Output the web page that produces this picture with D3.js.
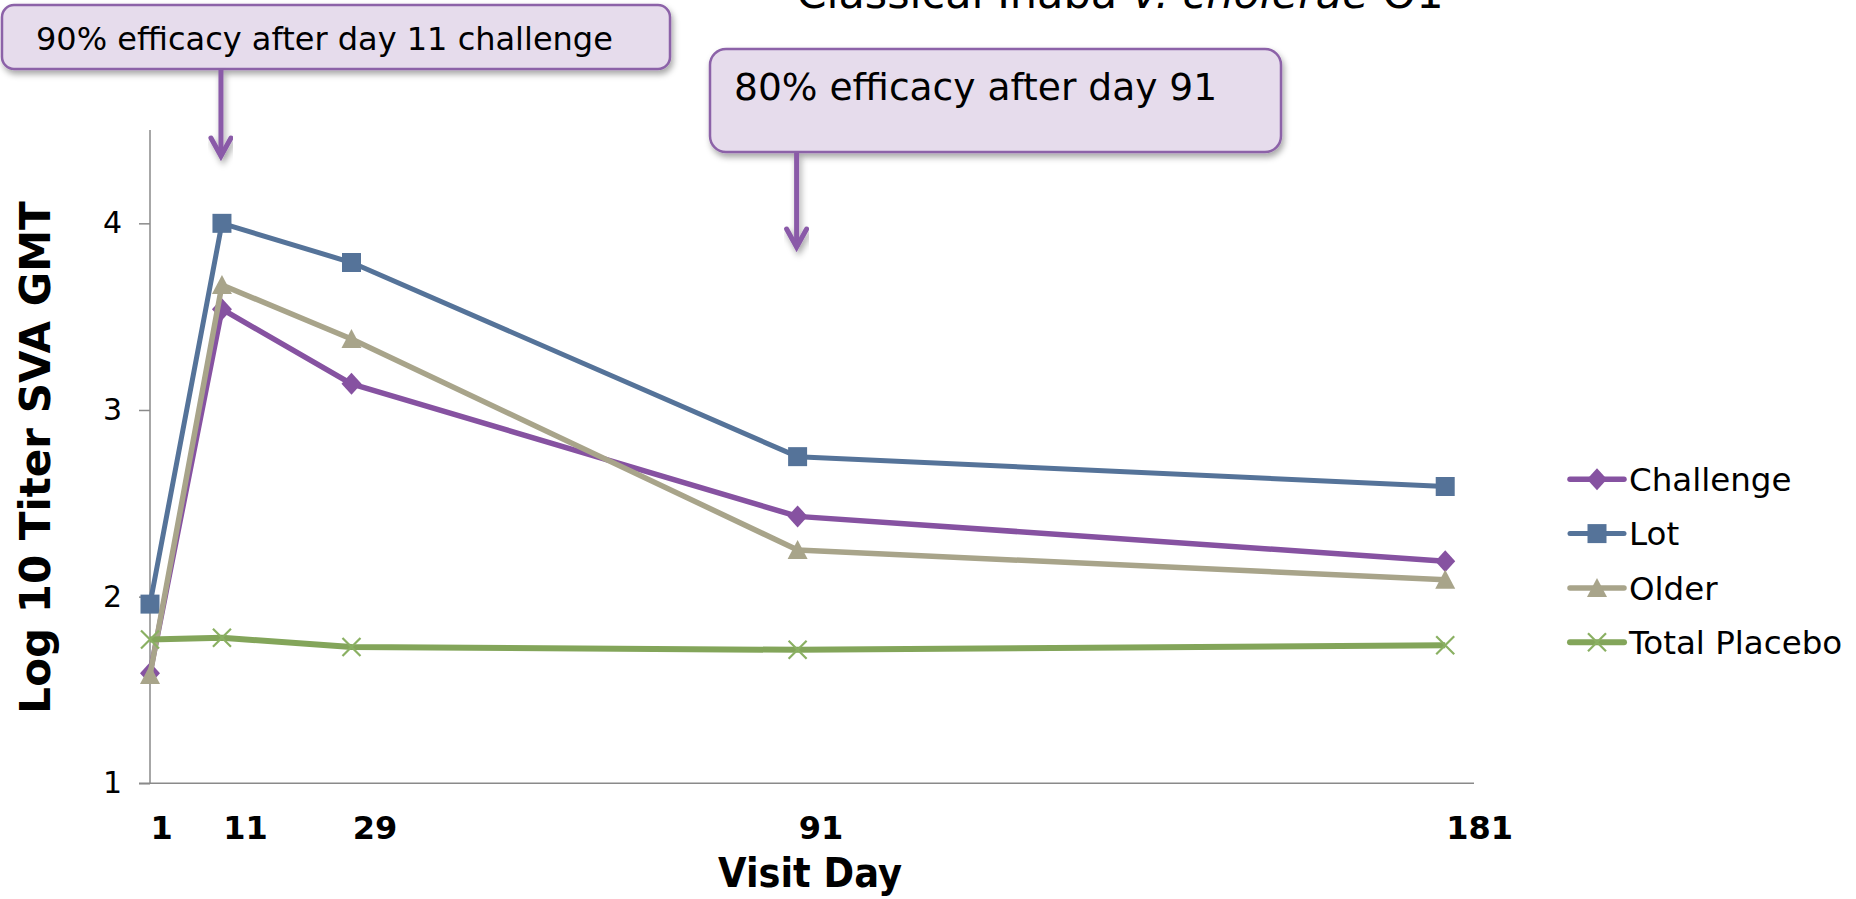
<!DOCTYPE html>
<html>
<head>
<meta charset="utf-8">
<script src="https://cdn.jsdelivr.net/npm/d3@7"></script>
<style>
  html, body { margin: 0; padding: 0; background: #fff; }
  svg { display: block; font-family: "DejaVu Sans", Verdana, sans-serif; }
</style>
</head>
<body>
<svg id="chart" width="1856" height="899"></svg>
<script>
// Visit days (x values)
const days = [1, 11, 29, 91, 181];

// Log10 SVA GMT per group
const challenge = [1.59, 3.54, 3.14, 2.43, 2.19];
const lot       = [1.96, 4.00, 3.79, 2.75, 2.59];
const older     = [1.58, 3.67, 3.38, 2.25, 2.09];
const placebo   = [1.77, 1.78, 1.73, 1.715, 1.74];

const seriesNames = ["Challenge", "Lot", "Older", "Total Placebo"];
const yTickValues = [1, 2, 3, 4];

const titleParts = ["Classical Inaba ", "V. cholerae", " O1"];
const calloutTexts = ["90% efficacy after day 11 challenge", "80% efficacy after day 91"];
const calloutDays = [11, 91];

// ---- styling ----
const styles = [
  { name: seriesNames[0], values: challenge, color: "#8652A1", width: 5.5, marker: "diamond" },
  { name: seriesNames[1], values: lot,       color: "#557399", width: 5,   marker: "square" },
  { name: seriesNames[2], values: older,     color: "#A8A48A", width: 5.5, marker: "triangle" },
  { name: seriesNames[3], values: placebo,   color: "#83A55A", width: 6,   marker: "x" }
];

const svg = d3.select("#chart");

const x = d3.scaleLinear().domain([1, 185]).range([150, 1474]);
const y = d3.scaleLinear().domain([1, 4.5]).range([783.3, 130]);

// marker shapes centred on (0,0)
function markerPath(type) {
  const p = d3.path();
  if (type === "square") {
    p.rect(-9.5, -9.5, 19, 19);
  } else if (type === "diamond") {
    p.moveTo(0, -11); p.lineTo(10, 0); p.lineTo(0, 11); p.lineTo(-10, 0); p.closePath();
  } else if (type === "triangle") {
    p.moveTo(0, -10); p.lineTo(10, 9); p.lineTo(-10, 9); p.closePath();
  } else if (type === "x") {
    p.moveTo(-9, -9); p.lineTo(9, 9); p.moveTo(9, -9); p.lineTo(-9, 9);
  }
  return p.toString();
}
function drawMarker(sel, s) {
  if (s.marker === "x") {
    sel.attr("d", markerPath("x")).attr("fill", "none")
      .attr("stroke", "#8AB062").attr("stroke-width", 2.2);
  } else {
    sel.attr("d", markerPath(s.marker)).attr("fill", s.color).attr("stroke", "none");
  }
}

// ---- axes ----
const axisColor = "#8A8A8A";

const yAxis = svg.append("g")
  .attr("transform", `translate(${x(1)},0)`)
  .call(d3.axisLeft(y).tickValues(yTickValues).tickSize(11).tickPadding(17).tickFormat(d3.format("d")));
yAxis.select(".domain").remove();
yAxis.selectAll(".tick line").attr("stroke", axisColor).attr("stroke-width", 1.5);
yAxis.selectAll(".tick text")
  .attr("font-family", "DejaVu Sans").attr("font-size", 30).attr("fill", "#000");
svg.append("line")
  .attr("x1", x(1)).attr("x2", x(1)).attr("y1", y(4.5)).attr("y2", y(1))
  .attr("stroke", axisColor).attr("stroke-width", 1.5);

// x label nudges (labels sit slightly right of their points)
const xLabelShift = d => d === 1 ? 11 : d === 181 ? 34 : 23;
const xAxis = svg.append("g")
  .attr("transform", `translate(0,${y(1)})`)
  .call(d3.axisBottom(x).tickValues(days).tickSize(0).tickPadding(33).tickFormat(d3.format("d")));
xAxis.select(".domain").remove();
xAxis.selectAll(".tick text")
  .attr("dx", d => xLabelShift(d))
  .attr("font-family", "DejaVu Sans").attr("font-weight", "bold")
  .attr("font-size", 32).attr("fill", "#000");
svg.append("line")
  .attr("x1", x(1) - 11).attr("x2", x(185)).attr("y1", y(1)).attr("y2", y(1))
  .attr("stroke", axisColor).attr("stroke-width", 1.5);

// axis titles
svg.append("text")
  .attr("transform", `translate(50,${(201 + 714) / 2}) rotate(-90)`)
  .attr("text-anchor", "middle")
  .attr("font-weight", "bold").attr("font-size", 42)
  .text("Log 10 Titer SVA GMT");

svg.append("text")
  .attr("x", 810).attr("y", 887)
  .attr("text-anchor", "middle")
  .attr("font-weight", "bold").attr("font-size", 40)
  .attr("textLength", 184).attr("lengthAdjust", "spacingAndGlyphs")
  .text("Visit Day");

// title (top edge of the slide clips it)
const title = svg.append("text")
  .attr("x", 1120).attr("y", 8)
  .attr("text-anchor", "middle").attr("font-size", 43).attr("fill", "#000");
titleParts.forEach((t, i) => {
  title.append("tspan").attr("font-style", i === 1 ? "italic" : "normal").text(t);
});

// ---- series ----
const line = d3.line().x((d, i) => x(days[i])).y(d => y(d));
styles.forEach(s => {
  const g = svg.append("g");
  g.append("path")
    .attr("d", line(s.values))
    .attr("fill", "none").attr("stroke", s.color)
    .attr("stroke-width", s.width).attr("stroke-linejoin", "round");
  g.selectAll("path.mk").data(s.values).join("path")
    .attr("class", "mk")
    .attr("transform", (d, i) => `translate(${x(days[i])},${y(d)})`)
    .call(sel => drawMarker(sel, s));
});

// ---- legend ----
const legend = svg.append("g").attr("transform", "translate(1570,479.3)");
styles.forEach((s, i) => {
  const g = legend.append("g").attr("transform", `translate(0,${i * 54.3})`);
  g.append("line").attr("x1", 0).attr("x2", 54).attr("y1", 0).attr("y2", 0)
    .attr("stroke", s.color).attr("stroke-width", s.width).attr("stroke-linecap", "round");
  g.append("path").attr("transform", "translate(27,0)").call(sel => drawMarker(sel, s));
  g.append("text").attr("x", 59).attr("y", 0).attr("dy", "0.36em")
    .attr("font-size", 32.5).attr("fill", "#000").text(s.name);
});

// ---- callouts ----
const defs = svg.append("defs");
const f = defs.append("filter").attr("id", "shadow")
  .attr("x", "-10%").attr("y", "-20%").attr("width", "120%").attr("height", "160%");
f.append("feDropShadow").attr("dx", 2).attr("dy", 4).attr("stdDeviation", 3)
  .attr("flood-color", "#000").attr("flood-opacity", 0.35);

const callouts = [
  { box: [2, 5, 668, 64], r: 12, textX: 36, textY: 50, size: 32, arrowTop: 70, arrowTip: 158 },
  { box: [710, 49, 571, 103], r: 16, textX: 734, textY: 100, size: 37.6, arrowTop: 153, arrowTip: 249 }
];
const arrowColor = "#8A5AA8";
callouts.forEach((c, i) => {
  const g = svg.append("g");
  g.append("rect")
    .attr("x", c.box[0]).attr("y", c.box[1]).attr("width", c.box[2]).attr("height", c.box[3])
    .attr("rx", c.r).attr("ry", c.r)
    .attr("fill", "#E6DCEC").attr("stroke", "#8C62A8").attr("stroke-width", 2.5)
    .attr("filter", "url(#shadow)");
  g.append("text").attr("x", c.textX).attr("y", c.textY)
    .attr("font-size", c.size).attr("fill", "#000").text(calloutTexts[i]);
  const ax = x(calloutDays[i]) - 1;
  const a = svg.append("g").attr("stroke", arrowColor).attr("stroke-width", 5)
    .attr("fill", "none").attr("filter", "url(#shadow)");
  a.append("line").attr("x1", ax).attr("x2", ax).attr("y1", c.arrowTop).attr("y2", c.arrowTip - 2);
  a.append("path")
    .attr("d", `M${ax - 10},${c.arrowTip - 20} L${ax},${c.arrowTip - 2} L${ax + 10},${c.arrowTip - 20}`)
    .attr("stroke-linejoin", "miter").attr("stroke-linecap", "round");
});
</script>
</body>
</html>
